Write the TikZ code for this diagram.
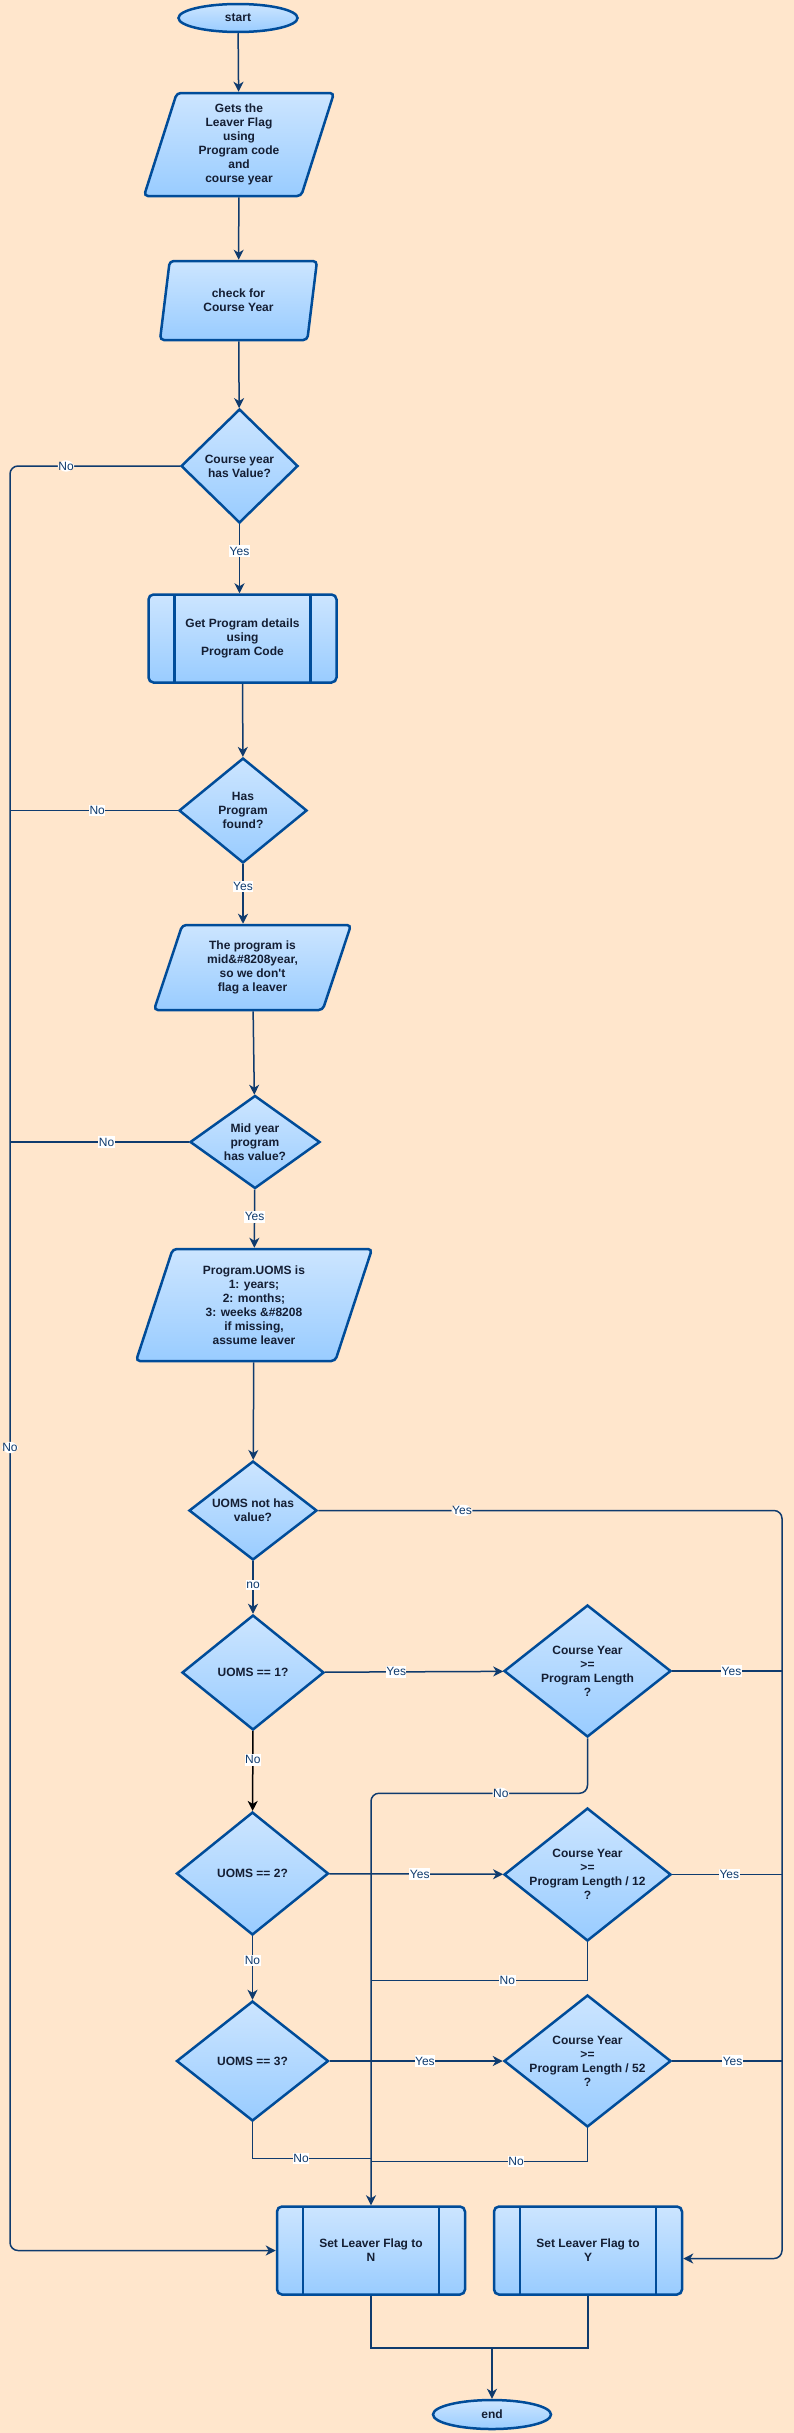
\documentclass[tikz,border=0pt]{standalone}
\usepackage{fontspec}
\setmainfont{Liberation Sans}
\usetikzlibrary{shapes.geometric,arrows.meta,positioning}
\definecolor{bg}{HTML}{FFE6CC}
\definecolor{filltop}{HTML}{CCE5FF}
\definecolor{fillbot}{HTML}{99CCFF}
\definecolor{border}{HTML}{004C99}
\definecolor{linec}{HTML}{0F3B6E}
\definecolor{ink}{HTML}{141E33}
\tikzset{
 box/.style={draw=border,line width=2.5pt,top color=filltop,bottom color=fillbot,inner sep=0pt,text=ink,align=center,font=\bfseries\fontsize{12}{14}\selectfont},
 term/.style={box,ellipse},
 io/.style={box,trapezium,trapezium stretches body,rounded corners=4pt},
 dec/.style={box,diamond},
 dtext/.style={inner sep=0pt,text=ink,align=center,font=\bfseries\fontsize{12}{14}\selectfont},
 sub/.style={box,rectangle,rounded corners=5pt,path picture={
  \draw[border,line width=2.5pt] ([xshift=26pt]path picture bounding box.north west) -- ([xshift=26pt]path picture bounding box.south west)
   ([xshift=-26pt]path picture bounding box.north east) -- ([xshift=-26pt]path picture bounding box.south east);}},
 edge/.style={draw=linec,line width=1.5pt},
 arr/.style={edge,-{Stealth[length=10pt,width=10pt,inset=3pt]}},
 lab/.style={fill=white,text=linec,inner xsep=0.5pt,inner ysep=1.5pt,font=\fontsize{12}{14}\selectfont},
}
\begin{document}
\begin{tikzpicture}[x=1pt,y=-1pt]
\fill[bg] (0,0) rectangle (794,2433);
\useasboundingbox (0,0) rectangle (794,2433);

\node[term,minimum width=119,minimum height=28] (start) at (238,18) {start};
\node[io,minimum width=190,minimum height=103,trapezium left angle=68,trapezium right angle=112] (getflag) at (239,144.5) {Gets the\\Leaver Flag\\using\\Program code\\and\\course year};
\node[io,minimum width=157,minimum height=79,trapezium left angle=67,trapezium right angle=113] (checkyear) at (238.5,300.5) {check for\\Course Year};
\node[dec,minimum width=117,minimum height=114,label={[dtext]center:{Course year\\has Value?}}] (hasyear) at (239.5,466) {};
\node[sub,minimum width=188,minimum height=88] (getprog) at (242.5,638.5) {Get Program details\\using\\Program Code};
\node[dec,minimum width=128,minimum height=105,label={[dtext]center:{Has\\Program\\found?}}] (found) at (243,810.5) {};
\node[io,minimum width=197,minimum height=85,trapezium left angle=62,trapezium right angle=118] (midtext) at (252.5,967.5) {The program is\\mid\&\#8208year,\\so we don\textquotesingle t\\flag a leaver};
\node[dec,minimum width=130,minimum height=93,label={[dtext]center:{Mid year\\program\\has value?}}] (midval) at (255,1142) {};
\node[io,minimum width=236,minimum height=112,trapezium left angle=65,trapezium right angle=115] (uomstext) at (254,1305) {Program.UOMS is\\1: years;\\2: months;\\3: weeks \&\#8208\\if missing,\\assume leaver};
\node[dec,minimum width=128,minimum height=99,label={[dtext]center:{UOMS not has\\value?}}] (uomsnone) at (253,1510.5) {};
\node[dec,minimum width=142,minimum height=115,label={[dtext]center:{UOMS == 1?}}] (uoms1) at (253,1672.5) {};
\node[dec,minimum width=167,minimum height=132,label={[dtext]center:{Course Year\\>=\\Program Length\\?}}] (cy1) at (587.5,1671) {};
\node[dec,minimum width=152,minimum height=123,label={[dtext]center:{UOMS == 2?}}] (uoms2) at (252.5,1873.5) {};
\node[dec,minimum width=167,minimum height=133,label={[dtext]center:{Course Year\\>=\\Program Length / 12\\?}}] (cy12) at (587.5,1874.5) {};
\node[dec,minimum width=152,minimum height=120,label={[dtext]center:{UOMS == 3?}}] (uoms3) at (252.5,2061) {};
\node[dec,minimum width=167,minimum height=132,label={[dtext]center:{Course Year\\>=\\Program Length / 52\\?}}] (cy52) at (587.5,2061) {};
\node[sub,minimum width=188,minimum height=88] (setn) at (371,2250.5) {Set Leaver Flag to\\N};
\node[sub,minimum width=188,minimum height=88] (sety) at (588,2250.5) {Set Leaver Flag to\\Y};
\node[term,minimum width=118,minimum height=29] (stop) at (492,2414.5) {end};

\coordinate (left) at (10,0);
\coordinate (right) at (782,0);
\coordinate (yin) at ([yshift=-8pt]sety.east);
\coordinate (mrg) at (492,2348);
\path (cy1.south) ++(0,55) coordinate (n1);
\path (cy12.south) ++(0,38) coordinate (n2);
\path (uoms3.south) ++(0,36) coordinate (n3);
\path (cy52.south) ++(0,33) coordinate (n4);

\draw[arr] (start) -- (getflag);
\draw[arr] (getflag) -- (checkyear);
\draw[arr] (checkyear) -- (hasyear);
\draw[arr] (hasyear.south) -- node[lab,pos=0.39]{Yes} (hasyear.south |- getprog.north);
\draw[arr] (getprog) -- (found);
\draw[arr] (found.south) -- node[lab,pos=0.37]{Yes} (found.south |- midtext.north);
\draw[arr] (midtext) -- (midval);
\draw[arr] (midval) -- node[lab,pos=0.47]{Yes} (uomstext);
\draw[arr] (uomstext) -- (uomsnone);
\draw[arr] (uomsnone) -- node[lab,pos=0.45]{no} (uoms1);
\draw[arr,draw=black] (uoms1) -- node[lab,pos=0.36]{No} (uoms2);
\draw[arr] (uoms2) -- node[lab,pos=0.38]{No} (uoms3);
\draw[arr] (uoms1) -- node[lab,pos=0.4]{Yes} (cy1);
\draw[arr] (uoms2) -- node[lab,pos=0.52]{Yes} (cy12);
\draw[arr] (uoms3) -- node[lab,pos=0.55]{Yes} (cy52);

\draw[arr,rounded corners=8] (hasyear.west) -- node[lab,pos=0.67]{No} (hasyear.west -| left) -- node[lab,pos=0.55]{No} (left |- setn.west) -- (setn.west);
\draw[edge] (found.west) -- node[lab,pos=0.48]{No} (found.west -| left);
\draw[edge] (midval.west) -- node[lab,pos=0.46]{No} (midval.west -| left);

\draw[arr,rounded corners=8] (uomsnone.east) -- node[lab,pos=0.31]{Yes} (uomsnone.east -| right) -- (yin -| right) -- (yin);
\draw[edge] (cy1.east) -- node[lab,pos=0.54]{Yes} (cy1.east -| right);
\draw[edge] (cy12.east) -- node[lab,pos=0.52]{Yes} (cy12.east -| right);
\draw[edge] (cy52.east) -- node[lab,pos=0.55]{Yes} (cy52.east -| right);

\draw[arr,rounded corners=8] (cy1.south) -- (n1) -- node[lab,pos=0.4]{No} (n1 -| setn.north) -- (setn.north);
\draw[edge] (cy12.south) -- (n2) -- node[lab,pos=0.37]{No} (n2 -| setn.north);
\draw[edge] (uoms3.south) -- (n3) -- node[lab,pos=0.41]{No} (n3 -| setn.north);
\draw[edge] (cy52.south) -- (n4) -- node[lab,pos=0.33]{No} (n4 -| setn.north);

\draw[edge] (setn.south) |- (mrg) -| (sety.south);
\draw[arr] (mrg) -- (stop);
\end{tikzpicture}
\end{document}
